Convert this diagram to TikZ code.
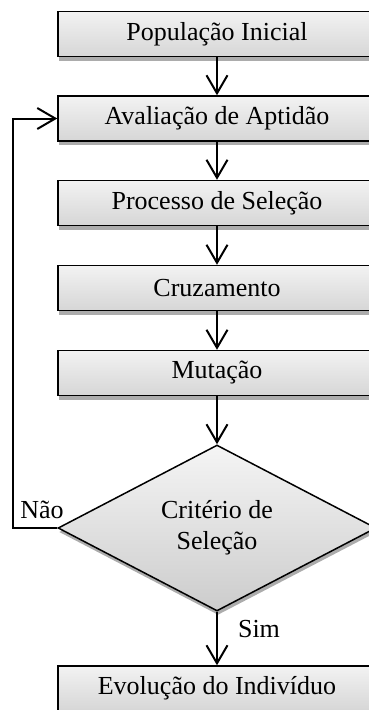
\documentclass[tikz,border=0pt]{standalone}
\usepackage{fontspec}
\setmainfont{Liberation Serif}
\usetikzlibrary{arrows.meta,shapes.geometric,shadows}
\begin{document}
\begin{tikzpicture}[x=1pt,y=1pt,
  stepbox/.style={draw=black,line width=1.5pt,top color=gray!10,bottom color=gray!32,
    minimum width=318pt,minimum height=45pt,inner sep=0pt,
    font=\fontsize{26}{31}\selectfont,
    drop shadow={shadow xshift=1pt,shadow yshift=-4pt,fill=gray!65,opacity=1}},
  decision/.style={diamond,draw=black,line width=1.5pt,top color=gray!8,bottom color=gray!40,
    minimum width=318pt,minimum height=166pt,inner sep=0pt,aspect=1.9,
    font=\fontsize{26}{31}\selectfont,
    drop shadow={shadow xshift=1pt,shadow yshift=-4pt,fill=gray!65,opacity=1}},
  conn/.style={line width=2pt,-{Straight Barb[length=18pt,width=21pt,line width=2pt]}},
  lbl/.style={font=\fontsize{26}{31}\selectfont,inner sep=0pt,anchor=base}
]
\useasboundingbox (0,0) rectangle (369,-710);
\node[stepbox] (b1) at (217,-34) {\raisebox{-5pt}{População Inicial}};
\node[stepbox] (b2) at (217,-118.5) {\raisebox{-5pt}{Avaliação de Aptidão}};
\node[stepbox] (b3) at (217,-203) {\raisebox{-5pt}{Processo de Seleção}};
\node[stepbox] (b4) at (217,-288) {\raisebox{-5pt}{Cruzamento}};
\node[stepbox] (b5) at (217,-373) {\raisebox{-5pt}{Mutação}};
\node[decision] (d) at (217,-528) {\raisebox{-3pt}{\begin{tabular}{@{}c@{}}Critério de\\Seleção\end{tabular}}};
\node[stepbox] (b6) at (217,-688.5) {\raisebox{-5pt}{Evolução do Indivíduo}};
\draw[conn] (b1) -- (b2);
\draw[conn] (b2) -- (b3);
\draw[conn] (b3) -- (b4);
\draw[conn] (b4) -- (b5);
\draw[conn] (b5) -- (d);
\draw[conn] (d) -- (b6);
\coordinate (lp) at (13,-528);
\draw[conn] (d.west) -- (lp) |- (b2.west);
\node[lbl] (nao) at (42,-518) {Não};
\node[lbl] (sim) at (259,-637) {Sim};
\end{tikzpicture}
\end{document}
